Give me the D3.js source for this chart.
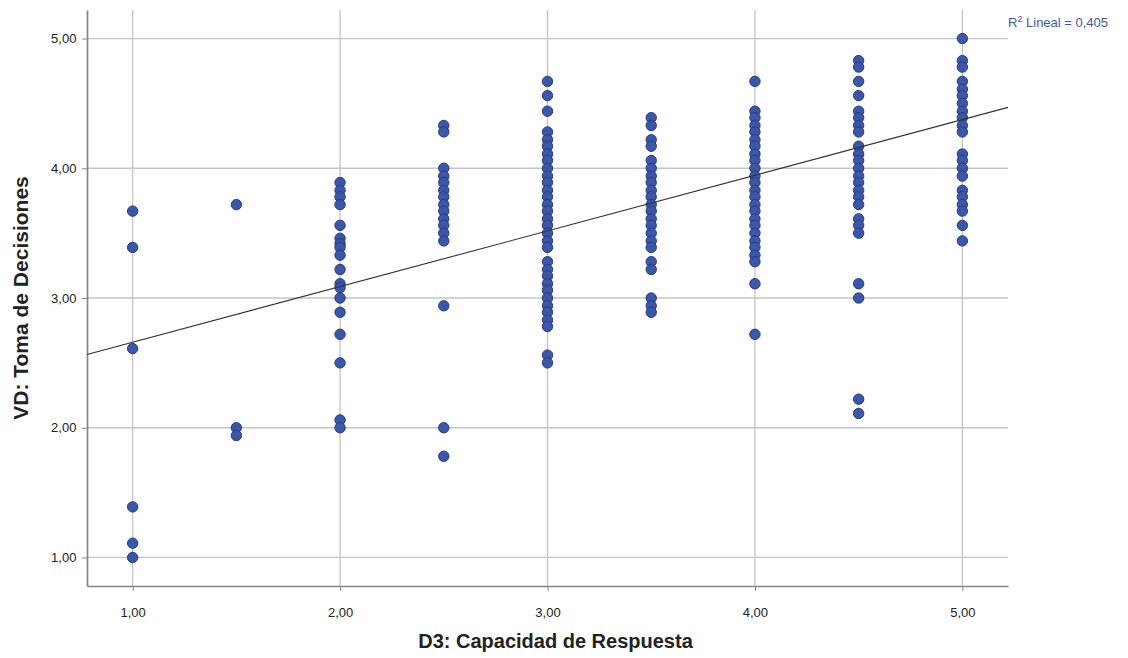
<!DOCTYPE html>
<html lang="es">
<head>
    <meta charset="utf-8">
    <title>Dispersión</title>
    <script src="https://d3js.org/d3.v7.min.js" charset="utf-8"></script>
    <style>
        body { margin: 0; background: #fff; }
        text { font-family: "Liberation Sans", Arial, sans-serif; }
    </style>
</head>
<body>
<script>

// puntos, agrupados por valor de D3
var xLevels = [1, 1.5, 2, 2.5, 3, 3.5, 4, 4.5, 5]
var yAt1  = [3.67, 3.39, 2.61, 1.39, 1.11, 1.00]
var yAt15 = [3.72, 2.00, 1.94]
var yAt2  = [3.89, 3.83, 3.78, 3.72, 3.56, 3.46, 3.42, 3.39, 3.33, 3.22, 3.11, 3.08, 3.00, 2.89, 2.72, 2.50, 2.06, 2.00]
var yAt25 = [4.33, 4.28, 4.00, 3.94, 3.89, 3.83, 3.78, 3.72, 3.67, 3.61, 3.56, 3.50, 3.44, 2.94, 2.00, 1.78]
var yAt3  = [4.67, 4.56, 4.44, 4.28, 4.22, 4.17, 4.11, 4.06, 4.00, 3.94, 3.89, 3.83, 3.78, 3.72, 3.67, 3.61, 3.56, 3.50, 3.44, 3.39,
             3.28, 3.22, 3.17, 3.11, 3.06, 3.00, 2.94, 2.89, 2.83, 2.78, 2.56, 2.50]
var yAt35 = [4.39, 4.33, 4.22, 4.17, 4.06, 4.00, 3.94, 3.89, 3.83, 3.78, 3.72, 3.67, 3.61, 3.56, 3.50, 3.44, 3.39, 3.28, 3.22, 3.00, 2.94, 2.89]
var yAt4  = [4.67, 4.44, 4.39, 4.33, 4.28, 4.22, 4.17, 4.11, 4.06, 4.00, 3.94, 3.89, 3.83, 3.78, 3.72, 3.67, 3.61, 3.56, 3.50, 3.44,
             3.39, 3.33, 3.28, 3.11, 2.72]
var yAt45 = [4.83, 4.78, 4.67, 4.56, 4.44, 4.39, 4.33, 4.28, 4.17, 4.11, 4.06, 4.00, 3.94, 3.89, 3.83, 3.78, 3.72, 3.61, 3.56, 3.50,
             3.11, 3.00, 2.22, 2.11]
var yAt5  = [5.00, 4.83, 4.78, 4.67, 4.61, 4.56, 4.50, 4.44, 4.39, 4.33, 4.28, 4.11, 4.06, 4.00, 3.94, 3.83, 3.78, 3.72, 3.67, 3.56, 3.44]
var yGroups = [yAt1, yAt15, yAt2, yAt25, yAt3, yAt35, yAt4, yAt45, yAt5]

var tickValues = [1, 2, 3, 4, 5]
var fitIntercept = 2.23
var fitSlope = 0.429
var r2Label = "0,405"
var xTitle = "D3: Capacidad de Respuesta"
var yTitle = "VD: Toma de Decisiones"

var W = 1128, H = 658
var m = {left: 87, right: 120, top: 10, bottom: 72}
var domain = [0.78, 5.22]

var points = []
xLevels.forEach(function(x, i) {
    yGroups[i].forEach(function(y) { points.push({x: x, y: y}) })
})

var svg = d3.select("body").append("svg").attr("width", W).attr("height", H)

var xScale = d3.scaleLinear().domain(domain).range([m.left, W - m.right])
var yScale = d3.scaleLinear().domain(domain).range([H - m.bottom, m.top])

var es = d3.formatLocale({decimal: ",", thousands: ".", grouping: [3], currency: ["", "€"]})
var fmt = es.format(".2f")

// rejilla
svg.append("g").selectAll("line").data(tickValues).join("line")
    .attr("x1", m.left).attr("x2", W - m.right)
    .attr("y1", function(d) { return yScale(d) }).attr("y2", function(d) { return yScale(d) })
    .attr("stroke", "#c4c4c4").attr("stroke-width", 1.3)
svg.append("g").selectAll("line").data(tickValues).join("line")
    .attr("y1", m.top).attr("y2", H - m.bottom)
    .attr("x1", function(d) { return xScale(d) }).attr("x2", function(d) { return xScale(d) })
    .attr("stroke", "#c4c4c4").attr("stroke-width", 1.3)

// ejes
var xAxis = svg.append("g").attr("transform", "translate(0," + (H - m.bottom) + ")")
    .call(d3.axisBottom(xScale).tickValues(tickValues).tickFormat(fmt).tickSize(5).tickSizeOuter(0))
var yAxis = svg.append("g").attr("transform", "translate(" + m.left + ",0)")
    .call(d3.axisLeft(yScale).tickValues(tickValues).tickFormat(fmt).tickSize(5).tickSizeOuter(0))

;[xAxis, yAxis].forEach(function(a) {
    a.select(".domain").attr("stroke", "#858585").attr("stroke-width", 1.7)
    a.selectAll(".tick line").attr("stroke", "#858585")
    a.selectAll(".tick text").attr("fill", "#222").attr("font-size", 13)
        .attr("font-family", "Liberation Sans, Arial, sans-serif")
})
xAxis.selectAll(".tick text").attr("dy", "1.8em")
yAxis.selectAll(".tick text").attr("dx", "-0.2em")

// puntos
svg.append("g").selectAll("circle").data(points).join("circle")
    .attr("cx", function(d) { return xScale(d.x) })
    .attr("cy", function(d) { return yScale(d.y) })
    .attr("r", 5.2)
    .attr("fill", "#3c57a8")
    .attr("stroke", "#243c86")
    .attr("stroke-width", 1)

// recta de ajuste
var line = d3.line()
    .x(function(d) { return xScale(d) })
    .y(function(d) { return yScale(fitIntercept + fitSlope * d) })
svg.append("path").datum(domain).attr("d", line)
    .attr("fill", "none").attr("stroke", "#333").attr("stroke-width", 1.1)

// R2
var r2 = svg.append("text").attr("x", 1008).attr("y", 27)
    .attr("fill", "#3c57a8").attr("font-size", 13)
r2.append("tspan").text("R")
r2.append("tspan").attr("font-size", 9).attr("dy", -5).text("2")
r2.append("tspan").attr("dy", 5).text(" Lineal = " + r2Label)

// títulos
svg.append("text").attr("x", (xScale(domain[0]) + xScale(domain[1])) / 2 + 8).attr("y", 648)
    .attr("text-anchor", "middle").attr("font-size", 20).attr("font-weight", "bold")
    .attr("fill", "#222").text(xTitle)
svg.append("text")
    .attr("transform", "translate(28," + (yScale(domain[0]) + yScale(domain[1])) / 2 + ") rotate(-90)")
    .attr("text-anchor", "middle").attr("font-size", 21).attr("font-weight", "bold")
    .attr("fill", "#222").text(yTitle)

</script>
</body>
</html>
